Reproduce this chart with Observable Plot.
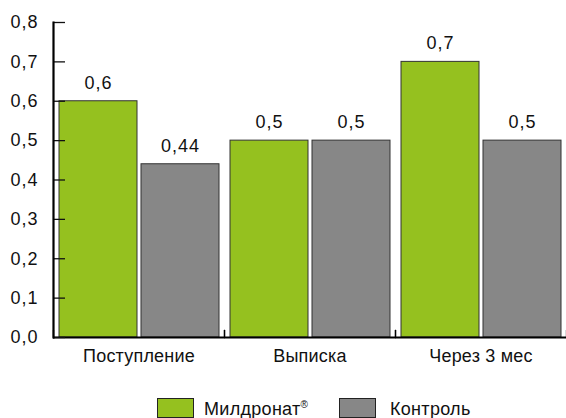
<!DOCTYPE html>
<html>
<head>
<meta charset="utf-8">
<script src="https://cdn.jsdelivr.net/npm/d3@7"></script>
<script src="https://cdn.jsdelivr.net/npm/@observablehq/plot@0.6"></script>
<style>
  html, body { margin: 0; padding: 0; background: #fff; overflow: hidden; }
  body { width: 566px; height: 418px; font-family: "Liberation Sans", Arial, sans-serif; }
  #chart g[aria-label="text"], #chart g[aria-label="y-axis tick label"] { letter-spacing: 1px; }
  #chart g[aria-label="fx-axis tick label"] { letter-spacing: 0.2px; }
  #legend { position: relative; height: 38px; font-size: 18px; color: #111; letter-spacing: 0.3px; }
  .sw { position: absolute; top: 18px; width: 37px; height: 20px; border: 1px solid #222; box-sizing: border-box; }
  .lab { position: absolute; top: 19px; line-height: 20px; }
  sup { font-size: 10px; vertical-align: 7px; line-height: 0; }
</style>
</head>
<body>
<div id="chart"></div>
<div id="legend"></div>
<script>
const categories = ["Поступление", "Выписка", "Через 3 мес"];
const series = ["Милдронат®", "Контроль"];
const mildronate = [0.6, 0.5, 0.7];
const control = [0.44, 0.5, 0.5];
const colors = ["#95c11f", "#878787"];
const yTicks = [0, 0.1, 0.2, 0.3, 0.4, 0.5, 0.6, 0.7, 0.8];

const data = [];
categories.forEach((c, i) => {
  data.push({category: c, series: series[0], value: mildronate[i]});
  data.push({category: c, series: series[1], value: control[i]});
});
const fmt = v => String(v).replace(".", ",");
const tickFmt = v => v.toFixed(1).replace(".", ",");

const tickShape = {draw(ctx, l) { ctx.moveTo(0, 0); ctx.lineTo(0, -l); }};

const chart = Plot.plot({
  width: 566,
  height: 380,
  marginLeft: 53,
  marginRight: 0,
  marginTop: 22,
  marginBottom: 43,
  style: {fontFamily: "Liberation Sans, Arial, sans-serif", fontSize: "18px", color: "#111", background: "#fff"},
  fx: {domain: categories, padding: 0, label: null},
  x: {domain: series, axis: null, paddingInner: 0.049, paddingOuter: 0.067},
  y: {domain: [0, 0.8], label: null},
  color: {domain: series, range: colors},
  marks: [
    Plot.barY(data, {fx: "category", x: "series", y: "value", fill: "series", stroke: "#333", strokeWidth: 1}),
    Plot.text(data, {fx: "category", x: "series", y: "value", text: d => fmt(d.value), dy: -18.5, fontSize: 18, fill: "#111"}),
    Plot.ruleY([0], {strokeWidth: 2, stroke: "#000"}),
    Plot.vector([0], {frameAnchor: "bottom-left", length: 7, anchor: "start", shape: tickShape, stroke: "#000", strokeWidth: 1.3}),
    Plot.vector([0], {frameAnchor: "bottom-right", length: 7, anchor: "start", shape: tickShape, stroke: "#000", strokeWidth: 1.3}),
    Plot.axisY({ticks: yTicks, tickSize: -12, tickPadding: 27, tickFormat: tickFmt, fontSize: 18, strokeWidth: 1.3, label: null}),
    Plot.frame({anchor: "left", facet: "super", stroke: "#000", strokeWidth: 2.2}),
    Plot.axisFx({anchor: "bottom", tickSize: 0, tickPadding: 12, fontSize: 18, label: null})
  ]
});
document.getElementById("chart").appendChild(chart);

const legend = document.getElementById("legend");
const lx = [[157, 204], [339, 390]];
series.forEach((s, i) => {
  const sw = document.createElement("div");
  sw.className = "sw";
  sw.style.left = lx[i][0] + "px";
  sw.style.background = colors[i];
  legend.appendChild(sw);
  const t = document.createElement("div");
  t.className = "lab";
  t.style.left = lx[i][1] + "px";
  if (s.endsWith("®")) {
    t.textContent = s.slice(0, -1);
    const sup = document.createElement("sup");
    sup.textContent = "®";
    t.appendChild(sup);
  } else {
    t.textContent = s;
  }
  legend.appendChild(t);
});
</script>
</body>
</html>
